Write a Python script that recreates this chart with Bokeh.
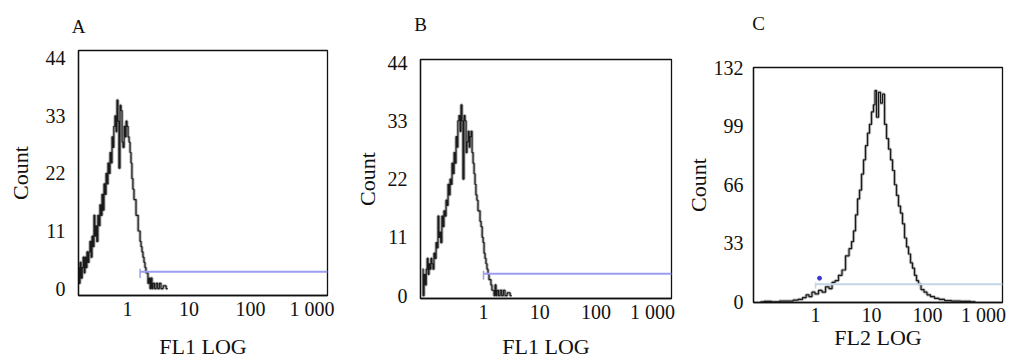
from bokeh.plotting import figure
from bokeh.layouts import row, column
from bokeh.models import FixedTicker, Range1d, LogAxis
from bokeh.embed import file_html
from bokeh.resources import INLINE

FONT = "Liberation Serif"

# ---------------- data ----------------
panel_titles = ["A", "B", "C"]
x_labels = ["FL1 LOG", "FL1 LOG", "FL2 LOG"]
y_label = "Count"
x_ticks = [1, 10, 100, 1000]
x_tick_labels = ["1", "10", "100", "1 000"]
y_ticks_ab = [0, 11, 22, 33, 44]
y_ticks_c = [0, 33, 66, 99, 132]

a_fl1 = [0.160, 0.166, 0.172, 0.180, 0.187, 0.193, 0.200, 0.207, 0.215, 0.223,
         0.232, 0.240, 0.250, 0.260, 0.270, 0.280, 0.290, 0.300, 0.310, 0.323,
         0.337, 0.350, 0.363, 0.378, 0.392, 0.407, 0.423, 0.440, 0.456, 0.473,
         0.490, 0.510, 0.530, 0.550, 0.570, 0.590, 0.610, 0.640, 0.660, 0.690,
         0.710, 0.740, 0.770, 0.800, 0.830, 0.860, 0.900, 0.930, 0.965, 1.00,
         1.04, 1.08, 1.12, 1.16, 1.20, 1.25, 1.30, 1.35, 1.40, 1.46,
         1.52, 1.57, 1.63, 1.69, 1.75, 1.82, 1.89, 1.96, 2.03, 2.11,
         2.19, 2.28, 2.37, 2.46, 2.55, 2.65, 2.85, 3.00, 3.19, 3.40,
         3.60, 4.00, 4.50]
a_count = [4, 1, 5, 2, 4, 6, 3, 6, 4, 7,
           5, 7, 9, 6, 10, 8, 14, 10, 12, 9,
           14, 12, 16, 14, 18, 15, 20, 18, 22, 20,
           24, 22, 26, 24, 29, 27, 31, 33, 30, 36,
           32, 23, 35, 34, 28, 27, 31, 29, 32, 31,
           29, 28, 26, 24, 21, 19, 17, 17, 14, 14,
           11, 11, 9, 8, 7, 6, 5, 4, 3, 3,
           1, 2, 0, 2, 0, 1, 0, 1, 0, 1,
           0, 0.5, 0]

b_fl1 = [0.0828, 0.0861, 0.0897, 0.0942, 0.0982, 0.1017, 0.1057, 0.1097, 0.1143, 0.1189,
         0.1241, 0.1288, 0.1349, 0.1406, 0.1466, 0.1525, 0.1585, 0.1644, 0.1702, 0.1782,
         0.1867, 0.1945, 0.2024, 0.2118, 0.2203, 0.2296, 0.2393, 0.2495, 0.2600, 0.2704,
         0.2812, 0.2938, 0.3062, 0.3184, 0.3319, 0.3443, 0.3573, 0.3758, 0.3890, 0.4083,
         0.4217, 0.4406, 0.4603, 0.4797, 0.5000, 0.5193, 0.5458, 0.5662, 0.5888, 0.6124,
         0.6393, 0.6662, 0.6934, 0.7201, 0.7473, 0.7814, 0.8153, 0.8499, 0.8841, 0.9258,
         0.9672, 1.002, 1.044, 1.086, 1.128, 1.178, 1.227, 1.277, 1.327, 1.384,
         1.441, 1.506, 1.571, 1.636, 1.702, 1.775, 1.921, 2.032, 2.174, 2.330,
         2.480, 2.783, 3.164]
b_count = [5, 0, 4, 2, 5, 7, 4, 6, 5, 7,
           6, 5, 8, 7, 10, 9, 15, 11, 12, 10,
           15, 13, 16, 15, 18, 17, 21, 19, 22, 21,
           25, 23, 27, 25, 30, 28, 33, 34, 31, 36,
           33, 22, 34, 33, 27, 29, 31, 28, 30, 31,
           27, 25, 23, 21, 19, 18, 16, 16, 14, 13,
           11, 10, 8, 7, 6, 5, 4, 3, 3, 2,
           1, 1, 0, 2, 0, 1, 0, 1, 0, 1,
           0, 0.5, 0]

c_fl2 = [0.104, 0.139, 0.193, 0.268, 0.358, 0.44, 0.54, 0.64, 0.72, 0.81,
         0.92, 1.04, 1.23, 1.39, 1.64, 1.85, 2.10, 2.37, 2.79, 3.16,
         3.73, 4.22, 4.58, 4.97, 5.40, 5.86, 6.36, 6.91, 7.50, 8.14,
         8.84, 9.60, 10.4, 11.3, 11.8, 12.8, 13.9, 15.1, 16.4, 17.8,
         19.3, 21.0, 22.8, 24.7, 26.8, 29.1, 31.6, 34.3, 37.3, 40.5,
         44.0, 47.7, 51.8, 56.2, 61.1, 66.3, 72.0, 81.4, 92.1, 104,
         123, 145, 178, 228, 316, 479, 720]
c_count = [0, 0.3, 0, 0.5, 0.5, 1, 1.5, 2.5, 4, 3,
           5.5, 4.5, 6.5, 5.5, 8.5, 7.5, 11, 12, 15, 18,
           26, 30, 34, 40, 49, 58, 63, 72, 80, 88,
           95, 100, 107, 111, 119, 104, 118, 112, 117, 100,
           92, 86, 80, 74, 66, 60, 54, 50, 44, 36,
           31, 27, 22, 19, 15, 12, 10, 7, 5.5, 4,
           3, 2, 1.5, 0.8, 0.5, 0.3, 0]

gate_start = [1.6, 1.0, 1.0]
gate_end = [1800, 2200, 2200]
gate_level = [3.2, 4.1, 10.0]
gate_tick_low = [2.0, 3.0, 7.5]
gate_tick_high = [3.8, 4.7, 11.0]
gate_colors = ["#9c9cf0", "#9c9cf0", "#c2d6e6"]
c_marker_x = [1.18]
c_marker_y = [13.4]

# ---------------- layout (styles/positions) ----------------
# tpos: x position (in axis units) where the panel letter sits, tst: its distance above the frame
panels = [
    dict(x=a_fl1, y=a_count, xr=(0.1596, 1786), yr=(-1.33, 45.5), yt=y_ticks_ab,
         w=340, bl=78, bt=50, bb=64, br=13, tpos=0.1605, tst=14,
         yls=13, yas=10, xls=2, xas=11),
    dict(x=b_fl1, y=b_count, xr=(0.076, 2183), yr=(-0.56, 44.57), yt=y_ticks_ab,
         w=340, bl=80, bt=59, bb=61, br=9, tpos=0.0765, tst=25,
         yls=13, yas=5, xls=2, xas=8),
    dict(x=c_fl2, y=c_count, xr=(0.078, 2183), yr=(-0.3, 132), yt=y_ticks_c,
         w=329, bl=73, bt=67, bb=59, br=7, tpos=0.096, tst=34,
         yls=10, yas=0, xls=1, xas=-4),
]


def style_axis(ax, size):
    ax.axis_line_color = "#111111"
    ax.axis_line_width = 1.3
    ax.major_tick_line_color = None
    ax.minor_tick_line_color = None
    ax.major_tick_out = 0
    ax.major_tick_in = 0
    ax.minor_tick_out = 0
    ax.minor_tick_in = 0
    ax.major_label_text_font = FONT
    ax.major_label_text_font_size = size
    ax.major_label_text_color = "#111111"
    ax.axis_label_text_font = FONT
    ax.axis_label_text_font_size = "22px"
    ax.axis_label_text_font_style = "normal"
    ax.axis_label_text_color = "#111111"


H = 361
figs = []
for i, pc in enumerate(panels):
    p = figure(width=pc["w"], height=H, x_axis_type="log",
               x_range=Range1d(*pc["xr"]), y_range=Range1d(*pc["yr"]),
               output_backend="svg", toolbar_location=None,
               min_border_left=pc["bl"], min_border_right=pc["br"],
               min_border_top=pc["bt"], min_border_bottom=pc["bb"])
    p.grid.visible = False
    p.title.visible = False
    p.background_fill_color = "white"
    p.border_fill_color = "white"
    p.outline_line_color = "#111111"
    p.outline_line_width = 1.3

    style_axis(p.xaxis[0], "20px")
    style_axis(p.yaxis[0], "20px")

    p.xaxis.ticker = FixedTicker(ticks=x_ticks)
    p.xaxis.major_label_overrides = {t: s for t, s in zip(x_ticks, x_tick_labels)}
    p.xaxis.major_label_standoff = pc["xls"]
    p.xaxis.axis_label = x_labels[i]
    p.xaxis.axis_label_standoff = pc["xas"]

    p.yaxis.ticker = FixedTicker(ticks=pc["yt"])
    p.yaxis.major_label_standoff = pc["yls"]
    p.yaxis.axis_label = y_label
    p.yaxis.axis_label_standoff = pc["yas"]

    # panel letter, drawn as the single label of an axis above the frame
    top = LogAxis(ticker=FixedTicker(ticks=[pc["tpos"]]),
                  major_label_overrides={pc["tpos"]: panel_titles[i]})
    style_axis(top, "19px")
    top.axis_line_color = None
    top.major_label_standoff = pc["tst"]
    p.add_layout(top, "above")

    # histogram: blurred gray underlay + dark jagged line
    p.step(pc["x"], pc["y"], mode="center", line_color="#9a9a9a", line_width=3.2, line_alpha=0.7)
    p.step(pc["x"], pc["y"], mode="center", line_color="#1a1a1a", line_width=1.2)

    # gate marker
    p.line([gate_start[i], gate_end[i]], [gate_level[i], gate_level[i]],
           line_color=gate_colors[i], line_width=2)
    p.segment([gate_start[i]], [gate_tick_low[i]], [gate_start[i]], [gate_tick_high[i]],
              line_color=gate_colors[i], line_width=1.5)
    if i == 2:
        p.scatter(c_marker_x, c_marker_y, size=4, color="#3b3bd0", marker="circle")
    figs.append(p)

layout = row(*[column(f) for f in figs])
open("out.html", "w").write(file_html(layout, INLINE))
